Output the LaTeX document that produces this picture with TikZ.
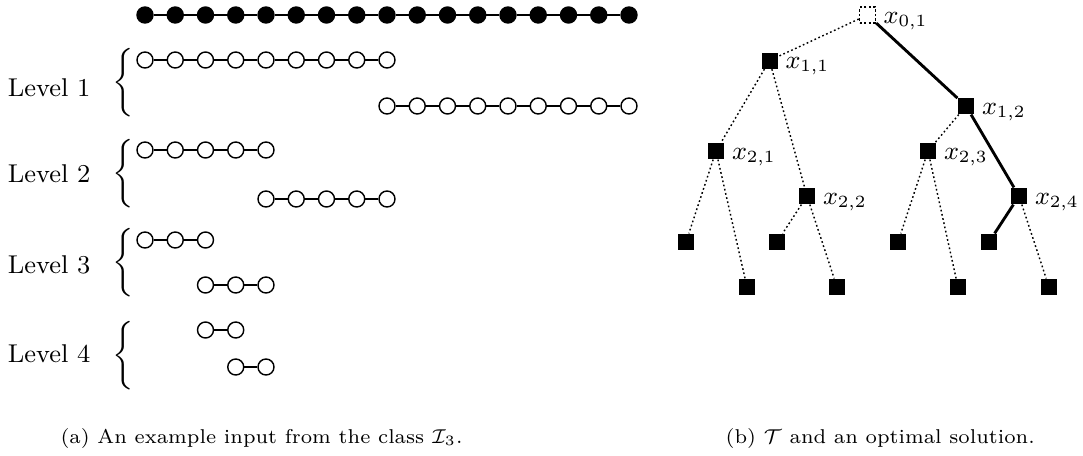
\documentclass[tikz,border=0pt]{standalone}
\begin{document}
\begin{tikzpicture}[x=0.35pt,y=-0.35pt,
  ball/.style={circle,draw,line width=0.5pt,minimum size=5.6pt,inner sep=0pt},
  fullball/.style={ball,fill=black},
  openball/.style={ball,fill=white},
  link/.style={line width=0.5pt},
  levellabel/.style={anchor=east,inner sep=0pt,font=\fontsize{9}{11}\selectfont},
  bracenode/.style={anchor=west,inner sep=0pt,font=\fontsize{9}{11}\selectfont},
  vertex/.style={rectangle,fill=black,minimum size=5.6pt,inner sep=0pt},
  rootvertex/.style={rectangle,draw,fill=white,line width=0.5pt,dash pattern=on 0.8pt off 0.8pt,minimum size=5.6pt,inner sep=0pt},
  treeedge/.style={line width=0.5pt,dash pattern=on 0.6pt off 0.9pt},
  solutionedge/.style={line width=1pt},
  vlabel/.style={anchor=west,inner sep=0pt,yshift=-2pt,font=\fontsize{9}{11}\selectfont},
  caption/.style={anchor=west,inner sep=0pt,font=\fontsize{7}{9}\selectfont}]
\useasboundingbox (0,0) rectangle (1083,455);

% a chain of #4 balls named #1-1 ... #1-#4, starting at (#2,#3)
\newcommand{\ballchain}[5]{%
  \foreach \i in {1,...,#4}{
    \node[#5] (#1-\i) at ({#2+(\i-1)*30.25},#3) {};
  }
  \foreach \i in {2,...,#4}{
    \pgfmathtruncatemacro{\k}{\i-1}
    \draw[link] (#1-\k) -- (#1-\i);
  }
}

% input path
\ballchain{top}{145}{15}{17}{fullball}
% levels
\ballchain{la}{145}{60}{9}{openball}
\ballchain{lb}{387}{106}{9}{openball}
\ballchain{ma}{145}{150}{5}{openball}
\ballchain{mb}{266}{199}{5}{openball}
\ballchain{na}{145}{240}{3}{openball}
\ballchain{nb}{205.5}{285}{3}{openball}
\ballchain{oa}{205.5}{330}{2}{openball}
\ballchain{ob}{235.75}{367}{2}{openball}

% level names and braces
\node[levellabel] (lev1) at (91,88) {Level 1};
\node[levellabel] (lev2) at (91,174) {Level 2};
\node[levellabel] (lev3) at (91,265) {Level 3};
\node[levellabel] (lev4) at (91,354) {Level 4};
\node[bracenode] (br1) at (112,82.5) {$\left\{\vrule height 13pt depth 8.4pt width 0pt\right.$};
\node[bracenode] (br2) at (112,174) {$\left\{\vrule height 13pt depth 8.4pt width 0pt\right.$};
\node[bracenode] (br3) at (112,263) {$\left\{\vrule height 13pt depth 8.4pt width 0pt\right.$};
\node[bracenode] (br4) at (112,356) {$\left\{\vrule height 13pt depth 8.4pt width 0pt\right.$};

% the tree
\node[rootvertex] (r) at (867.5,15) {};
\node[vertex] (a) at (769.5,60.5) {};
\node[vertex] (b) at (966,106) {};
\node[vertex] (c) at (716,151) {};
\node[vertex] (d) at (807,196) {};
\node[vertex] (e) at (928,151) {};
\node[vertex] (f) at (1019,196) {};
\node[vertex] (l1) at (686,242) {};
\node[vertex] (l2) at (747,287) {};
\node[vertex] (l3) at (777,242) {};
\node[vertex] (l4) at (837,287) {};
\node[vertex] (l5) at (898,242) {};
\node[vertex] (l6) at (958,287) {};
\node[vertex] (l7) at (989,242) {};
\node[vertex] (l8) at (1049,287) {};

\node[vlabel] (xr) at ([xshift=2.4pt]r.east) {$x_{0,1}$};
\node[vlabel] (xa) at ([xshift=2.4pt]a.east) {$x_{1,1}$};
\node[vlabel] (xb) at ([xshift=2.4pt]b.east) {$x_{1,2}$};
\node[vlabel] (xc) at ([xshift=2.4pt]c.east) {$x_{2,1}$};
\node[vlabel] (xd) at ([xshift=2.4pt]d.east) {$x_{2,2}$};
\node[vlabel] (xe) at ([xshift=2.4pt]e.east) {$x_{2,3}$};
\node[vlabel] (xf) at ([xshift=2.4pt]f.east) {$x_{2,4}$};

\draw[treeedge] (r) -- (a);
\draw[solutionedge] (r) -- (b);
\draw[treeedge] (a) -- (c);
\draw[treeedge] (a) -- (d);
\draw[treeedge] (b) -- (e);
\draw[solutionedge] (b) -- (f);
\draw[treeedge] (c) -- (l1);
\draw[treeedge] (c) -- (l2);
\draw[treeedge] (d) -- (l3);
\draw[treeedge] (d) -- (l4);
\draw[treeedge] (e) -- (l5);
\draw[treeedge] (e) -- (l6);
\draw[solutionedge] (f) -- (l7);
\draw[treeedge] (f) -- (l8);

% captions
\node[caption] (capa) at (60,438) {(a) An example input from the class $\mathcal{I}_3$.};
\node[caption] (capb) at (725,438) {(b) $\mathcal{T}$ and an optimal solution.};
\end{tikzpicture}
\end{document}
